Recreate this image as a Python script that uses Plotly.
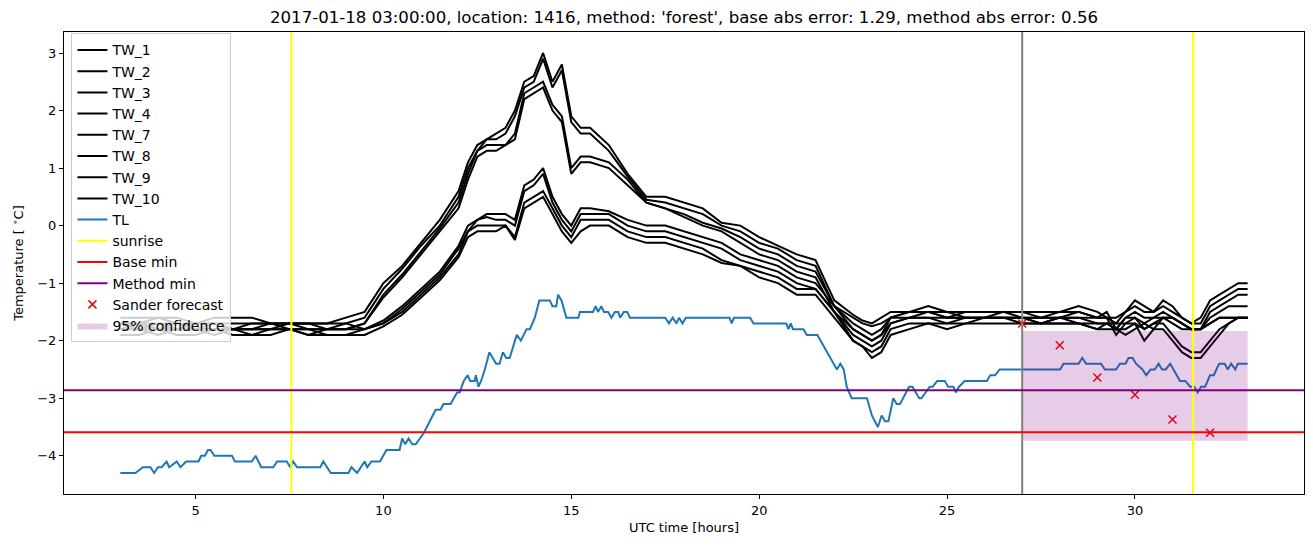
import plotly.graph_objects as go

TITLE = "2017-01-18 03:00:00, location: 1416, method: 'forest', base abs error: 1.29, method abs error: 0.56"

# ---- TW series (shared time axis, hours UTC) ----
TW_HOURS = [3.0, 3.5, 4.0, 4.5, 5.0, 5.5, 6.0, 6.5, 7.0, 7.5, 8.0, 8.5, 9.0, 9.5, 10.0, 10.5, 11.0, 11.5, 12.0,
            12.25, 12.5, 12.75, 13.0, 13.25, 13.5, 13.75, 14.0, 14.25, 14.5, 14.75, 15.0, 15.25, 15.5,
            16.0, 16.5, 17.0, 17.5, 18.0, 18.5, 19.0, 19.5, 20.0, 20.5, 21.0, 21.5, 22.0, 22.5,
            22.75, 23.0, 23.25, 23.5,
            24.0, 24.5, 25.0, 25.5, 26.0, 26.5, 27.0, 27.5, 28.0, 28.5, 29.0,
            29.25, 29.5, 29.75, 30.0, 30.25, 30.5, 30.75, 31.0, 31.25, 31.5, 31.75, 32.0, 32.25, 32.5, 32.75, 33.0]

TW_1 = [-1.6, -1.6, -1.6, -1.6, -1.7, -1.6, -1.6, -1.6, -1.7, -1.7, -1.7, -1.7, -1.6, -1.5, -1.0, -0.7, -0.3, 0.1, 0.6,
        1.1, 1.4, 1.5, 1.6, 1.7, 2.0, 2.5, 2.6, 3.0, 2.5, 2.8, 1.9, 1.7, 1.7,
        1.4, 0.9, 0.5, 0.5, 0.4, 0.3, 0.05, 0.0, -0.2, -0.35, -0.5, -0.6, -1.3, -1.55,
        -1.65, -1.7, -1.6, -1.5,
        -1.5, -1.4, -1.5, -1.5, -1.5, -1.5, -1.5, -1.5, -1.5, -1.4, -1.5,
        -1.6, -1.7, -1.5, -1.3, -1.4, -1.5, -1.3, -1.4, -1.6, -1.7, -1.6, -1.3, -1.2, -1.1, -1.0, -1.0]
TW_2 = [-1.7, -1.7, -1.6, -1.7, -1.7, -1.7, -1.7, -1.7, -1.7, -1.7, -1.7, -1.8, -1.7, -1.6, -1.1, -0.75, -0.35, 0.0, 0.5,
        1.0, 1.3, 1.5, 1.5, 1.6, 1.9, 2.4, 2.5, 2.9, 2.4, 2.7, 1.8, 1.6, 1.6,
        1.3, 0.85, 0.45, 0.4, 0.3, 0.2, 0.0, -0.1, -0.3, -0.4, -0.6, -0.7, -1.4, -1.6,
        -1.7, -1.75, -1.7, -1.6,
        -1.5, -1.5, -1.6, -1.5, -1.5, -1.5, -1.5, -1.6, -1.5, -1.5, -1.6,
        -1.6, -1.6, -1.5, -1.4, -1.5, -1.5, -1.4, -1.5, -1.6, -1.7, -1.7, -1.4, -1.3, -1.2, -1.1, -1.1]
TW_3 = [-1.7, -1.7, -1.7, -1.8, -1.7, -1.7, -1.8, -1.8, -1.7, -1.7, -1.7, -1.7, -1.7, -1.8, -1.65, -1.4, -1.1, -0.8, -0.35,
        0.0, 0.1, 0.2, 0.2, 0.2, 0.1, 0.7, 0.8, 1.0, 0.5, 0.2, 0.0, 0.3, 0.3,
        0.25, 0.1, 0.0, 0.0, -0.1, -0.2, -0.3, -0.5, -0.6, -0.7, -0.9, -1.0, -1.4, -1.8,
        -1.9, -2.0, -1.9, -1.6,
        -1.5, -1.5, -1.5, -1.6, -1.6, -1.5, -1.6, -1.6, -1.6, -1.6, -1.7,
        -1.7, -1.8, -1.6, -1.6, -1.8, -1.7, -1.6, -1.6, -1.7, -1.8, -1.8, -1.7, -1.6, -1.6, -1.6, -1.6]
TW_4 = [-1.8, -1.7, -1.8, -1.8, -1.8, -1.8, -1.8, -1.9, -1.8, -1.7, -1.8, -1.8, -1.8, -1.8, -1.7, -1.45, -1.15, -0.85, -0.4,
        -0.1, 0.1, 0.15, 0.1, 0.1, 0.0, 0.6, 0.7, 0.9, 0.4, 0.1, -0.1, 0.2, 0.2,
        0.2, 0.0, -0.1, -0.1, -0.2, -0.3, -0.4, -0.6, -0.7, -0.8, -1.0, -1.1, -1.5, -1.9,
        -2.0, -2.1, -2.0, -1.7,
        -1.6, -1.6, -1.6, -1.6, -1.6, -1.6, -1.6, -1.7, -1.6, -1.7, -1.7,
        -1.7, -1.7, -1.7, -1.7, -2.0, -1.8, -1.6, -1.7, -1.8, -1.8, -1.8, -1.7, -1.6, -1.6, -1.6, -1.6]
TW_7 = [-1.7, -1.8, -1.7, -1.7, -1.8, -1.7, -1.8, -1.7, -1.7, -1.8, -1.8, -1.8, -1.8, -1.7, -1.2, -0.85, -0.45, -0.05, 0.4,
        0.9, 1.3, 1.4, 1.4, 1.4, 1.6, 2.3, 2.4, 2.5, 2.1, 1.9, 1.0, 1.2, 1.2,
        1.1, 0.8, 0.4, 0.3, 0.2, 0.05, -0.05, -0.2, -0.4, -0.5, -0.7, -0.8, -1.4, -1.7,
        -1.8, -1.9, -1.8, -1.6,
        -1.6, -1.5, -1.6, -1.6, -1.6, -1.6, -1.6, -1.6, -1.6, -1.5, -1.6,
        -1.5, -1.8, -1.6, -1.5, -1.6, -1.6, -1.5, -1.6, -1.7, -1.8, -1.8, -1.5, -1.4, -1.3, -1.2, -1.2]
TW_8 = [-1.8, -1.8, -1.9, -1.8, -1.8, -1.9, -1.8, -1.8, -1.8, -1.8, -1.8, -1.9, -1.9, -1.8, -1.7, -1.5, -1.2, -0.9, -0.5,
        -0.1, 0.0, 0.0, 0.0, 0.0, -0.2, 0.4, 0.5, 0.6, 0.3, 0.0, -0.2, 0.1, 0.1,
        0.1, -0.1, -0.2, -0.2, -0.3, -0.4, -0.6, -0.7, -0.8, -0.9, -1.1, -1.1, -1.5, -2.0,
        -2.1, -2.2, -2.1, -1.8,
        -1.7, -1.7, -1.7, -1.7, -1.6, -1.6, -1.7, -1.7, -1.7, -1.7, -1.8,
        -1.7, -1.8, -1.8, -1.7, -1.8, -1.7, -1.7, -1.9, -2.1, -2.2, -2.2, -2.0, -1.8, -1.7, -1.6, -1.6]
TW_9 = [-1.8, -1.8, -1.8, -1.7, -1.8, -1.8, -1.8, -1.8, -1.8, -1.8, -1.9, -1.8, -1.8, -1.7, -1.25, -0.9, -0.5, -0.1, 0.3,
        0.8, 1.2, 1.3, 1.3, 1.4, 1.5, 2.2, 2.3, 2.4, 2.0, 1.8, 0.9, 1.1, 1.1,
        1.0, 0.7, 0.4, 0.3, 0.15, 0.0, -0.1, -0.3, -0.5, -0.6, -0.8, -0.9, -1.5, -1.8,
        -1.9, -2.0, -1.9, -1.7,
        -1.6, -1.6, -1.7, -1.6, -1.6, -1.6, -1.6, -1.7, -1.6, -1.6, -1.6,
        -1.6, -1.9, -1.7, -1.6, -1.7, -1.6, -1.6, -1.6, -1.7, -1.8, -1.8, -1.6, -1.5, -1.4, -1.4, -1.4]
TW_10 = [-1.9, -1.9, -1.8, -1.9, -1.9, -1.8, -1.9, -1.9, -1.9, -1.8, -1.9, -1.9, -1.9, -1.9, -1.75, -1.55, -1.25, -0.95, -0.55,
         -0.2, -0.1, -0.1, -0.1, 0.0, -0.25, 0.3, 0.4, 0.5, 0.2, -0.1, -0.3, -0.1, 0.0,
         0.0, -0.2, -0.3, -0.3, -0.4, -0.5, -0.65, -0.7, -0.9, -1.0, -1.2, -1.2, -1.6, -2.0,
         -2.1, -2.3, -2.2, -1.9,
         -1.8, -1.7, -1.8, -1.7, -1.7, -1.7, -1.7, -1.7, -1.7, -1.7, -1.8,
         -1.8, -1.8, -1.9, -1.8, -1.7, -1.8, -1.8, -2.0, -2.2, -2.3, -2.3, -2.1, -1.9, -1.7, -1.6, -1.6]

TW_NAMES = ["TW_1", "TW_2", "TW_3", "TW_4", "TW_7", "TW_8", "TW_9", "TW_10"]
TW_SERIES = [TW_1, TW_2, TW_3, TW_4, TW_7, TW_8, TW_9, TW_10]

# ---- TL series (breakpoints) ----
TL_HOURS = [3.0, 3.4, 3.6, 3.8, 3.9, 4.0, 4.1, 4.23, 4.3, 4.5, 4.6, 4.75, 5.08, 5.15, 5.25, 5.33, 5.4, 5.5, 5.97, 6.05,
            6.5, 6.6, 6.75, 7.07, 7.17, 7.43, 7.52, 7.6, 7.7, 8.32, 8.4, 8.6, 9.07, 9.15, 9.3, 9.5, 9.57, 9.68, 9.91, 10.08,
            10.43, 10.5, 10.58, 10.67, 10.77, 10.86, 11.08, 11.39, 11.52, 11.6, 11.79, 11.96, 12.03, 12.14, 12.24, 12.31,
            12.43, 12.46, 12.53, 12.6, 12.7, 12.82, 13.0, 13.09, 13.18, 13.27, 13.36, 13.55, 13.66, 13.81, 13.9, 14.03,
            14.15, 14.43, 14.5, 14.6, 14.65, 14.74, 14.87, 15.19, 15.23, 15.58, 15.65, 15.71, 15.8, 15.87, 15.98, 16.07,
            16.16, 16.25, 16.3, 16.4, 16.49, 16.56, 17.5, 17.6, 17.7, 17.8, 17.87, 17.96, 18.05, 19.21, 19.27, 19.33,
            19.76, 19.85, 20.72, 20.78, 20.84, 20.9, 21.18, 21.27, 21.55, 22.07, 22.16, 22.25, 22.33, 22.46, 22.87, 23.0,
            23.16, 23.26, 23.35, 23.44, 23.57, 23.66, 23.75, 23.99, 24.08, 24.26, 24.32, 24.54, 24.62, 24.74, 24.94, 25.03,
            25.17, 25.23, 25.32, 25.47, 26.06, 26.15, 26.28, 26.4, 28.01, 28.1, 28.5, 28.6, 28.7, 29.1, 29.2, 29.5, 29.6,
            29.75, 29.83, 29.94, 30.03, 30.2, 30.3, 30.42, 30.53, 30.63, 30.72, 30.82, 30.94, 31.02, 31.2, 31.34, 31.47,
            31.58, 31.67, 31.76, 31.87, 32.0, 32.1, 32.24, 32.39, 32.47, 32.56, 32.67, 32.74, 33.0]
TL = [-4.3, -4.3, -4.2, -4.2, -4.3, -4.2, -4.2, -4.1, -4.2, -4.1, -4.2, -4.1, -4.1, -4.0, -4.0, -3.9, -3.9, -4.0, -4.0, -4.1,
      -4.1, -4.0, -4.2, -4.2, -4.1, -4.1, -4.2, -4.1, -4.2, -4.2, -4.1, -4.3, -4.3, -4.2, -4.3, -4.1, -4.2, -4.1, -4.1, -3.9,
      -3.9, -3.7, -3.8, -3.7, -3.8, -3.8, -3.6, -3.2, -3.2, -3.1, -3.1, -2.9, -2.9, -2.7, -2.6, -2.7,
      -2.7, -2.6, -2.8, -2.7, -2.5, -2.2, -2.4, -2.4, -2.2, -2.3, -2.3, -1.9, -2.0, -1.8, -1.8, -1.6,
      -1.3, -1.3, -1.4, -1.4, -1.2, -1.3, -1.6, -1.6, -1.5, -1.5, -1.4, -1.5, -1.4, -1.5, -1.5, -1.6,
      -1.5, -1.5, -1.6, -1.5, -1.5, -1.6, -1.6, -1.7, -1.6, -1.7, -1.6, -1.7, -1.6, -1.6, -1.7, -1.6,
      -1.6, -1.7, -1.7, -1.8, -1.7, -1.8, -1.8, -1.9, -1.9, -2.5, -2.4, -2.5, -2.8, -3.0, -3.0, -3.3,
      -3.5, -3.3, -3.4, -3.4, -3.0, -3.1, -3.1, -2.8, -2.8, -3.0, -3.0, -2.8, -2.8, -2.7, -2.7, -2.8,
      -2.8, -2.9, -2.8, -2.7, -2.7, -2.6, -2.6, -2.5, -2.5, -2.4, -2.4, -2.3, -2.4, -2.4, -2.5, -2.5, -2.4,
      -2.4, -2.3, -2.3, -2.4, -2.5, -2.6, -2.5, -2.5, -2.4, -2.5, -2.5, -2.4, -2.5, -2.7, -2.7, -2.8,
      -2.8, -2.9, -2.8, -2.8, -2.6, -2.6, -2.4, -2.4, -2.5, -2.4, -2.5, -2.4, -2.4]

# ---- markers / reference values ----
SUNRISE_HOURS = [7.55, 31.55]
FORECAST_START = 27.0
BASE_MIN = -3.59
METHOD_MIN = -2.86
SANDER_HOURS = [27, 28, 29, 30, 31, 32]
SANDER_FORECAST = [-1.70, -2.08, -2.64, -2.94, -3.37, -3.60]
CONF_HOURS = [27.0, 33.0]
CONF_LOWER = -3.74
CONF_UPPER = -1.83

X_TICKS = [5, 10, 15, 20, 25, 30]
Y_TICKS = [-4, -3, -2, -1, 0, 1, 2, 3]

FONT = "DejaVu Sans"
LW = 2
fig = go.Figure()
rank = 1
for name, vals in zip(TW_NAMES, TW_SERIES):
    fig.add_trace(go.Scatter(x=TW_HOURS, y=vals, mode="lines", name=name,
                             line=dict(color="black", width=LW), legendrank=rank))
    rank += 1
fig.add_trace(go.Scatter(x=TL_HOURS, y=TL, mode="lines", name="TL",
                         line=dict(color="#1f77b4", width=LW), legendrank=rank))
rank += 1
for i, h in enumerate(SUNRISE_HOURS):
    fig.add_shape(type="line", xref="x", yref="paper", x0=h, x1=h, y0=0, y1=1,
                  line=dict(color="yellow", width=LW), name="sunrise",
                  showlegend=(i == 0), legendrank=rank)
rank += 1
fig.add_shape(type="line", xref="x", yref="paper", x0=FORECAST_START, x1=FORECAST_START, y0=0, y1=1,
              line=dict(color="gray", width=LW), showlegend=False)
fig.add_shape(type="line", xref="paper", yref="y", x0=0, x1=1, y0=BASE_MIN, y1=BASE_MIN,
              line=dict(color="red", width=LW), name="Base min", showlegend=True, legendrank=rank)
rank += 1
fig.add_shape(type="line", xref="paper", yref="y", x0=0, x1=1, y0=METHOD_MIN, y1=METHOD_MIN,
              line=dict(color="purple", width=LW), name="Method min", showlegend=True, legendrank=rank)
rank += 1
fig.add_trace(go.Scatter(x=SANDER_HOURS, y=SANDER_FORECAST, mode="markers", name="Sander forecast",
                         marker=dict(symbol="x-thin", size=8, color="red", line=dict(color="red", width=1.5)),
                         legendrank=rank))
rank += 1
fig.add_trace(go.Scatter(x=[CONF_HOURS[0], CONF_HOURS[1], CONF_HOURS[1], CONF_HOURS[0], CONF_HOURS[0]],
                         y=[CONF_UPPER, CONF_UPPER, CONF_LOWER, CONF_LOWER, CONF_UPPER],
                         mode="lines", fill="toself", fillcolor="rgba(128,0,128,0.2)",
                         line=dict(width=0, color="rgba(128,0,128,0)"), name="95% confidence",
                         legendrank=rank))

axis_common = dict(showline=True, linecolor="black", linewidth=1, mirror=True, ticks="outside",
                   ticklen=4, tickcolor="black", tickwidth=1, showgrid=False, zeroline=False,
                   tickfont=dict(family=FONT, size=13, color="black"))
fig.update_xaxes(range=[1.5, 34.5], tickvals=X_TICKS,
                 title=dict(text="UTC time [hours]", font=dict(family=FONT, size=13, color="black"), standoff=6),
                 **axis_common)
fig.update_yaxes(range=[-4.665, 3.365], tickvals=Y_TICKS,
                 title=dict(text="Temperature [ <sup>∘</sup>C]", font=dict(family=FONT, size=13, color="black"), standoff=10),
                 **axis_common)
fig.update_layout(
    width=1313, height=547,
    margin=dict(l=64, r=9, t=32, b=53, pad=0),
    paper_bgcolor="white", plot_bgcolor="white",
    font=dict(family=FONT, color="black"),
    title=dict(text=TITLE, x=0.5, xref="paper", y=1 - 17 / 547, yref="container", yanchor="middle",
               font=dict(family=FONT, size=16.6, color="black")),
    legend=dict(x=0.006, y=0.997, xanchor="left", yanchor="top", bgcolor="rgba(255,255,255,0.8)",
                bordercolor="#cccccc", borderwidth=1, font=dict(family=FONT, size=14, color="black"),
                itemwidth=30, tracegroupgap=0),
    showlegend=True,
)
fig.write_html("out.html")
